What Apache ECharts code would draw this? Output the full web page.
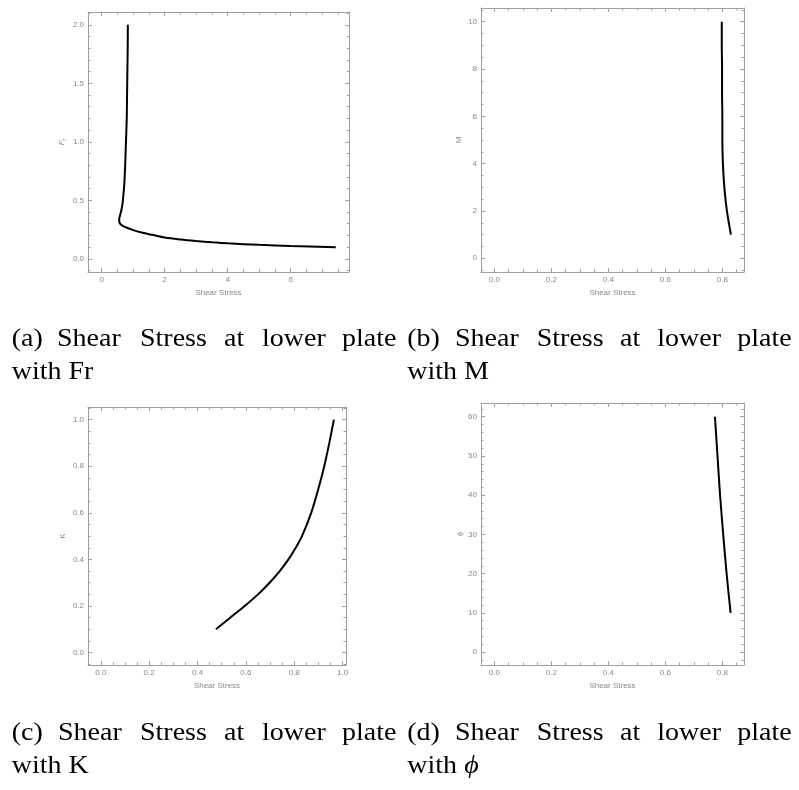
<!DOCTYPE html>
<html>
<head>
<meta charset="utf-8">
<script src="https://cdn.jsdelivr.net/npm/echarts@6/dist/echarts.min.js"></script>
<style>
html,body{margin:0;padding:0;background:#fff;}
#chart{width:799px;height:790px;}
</style>
</head>
<body>
<div id="chart"></div>
<script>
// ---- data ----
// (a) Shear stress vs Fr
const frShear = [0.83, 0.825, 0.815, 0.805, 0.795, 0.77, 0.745, 0.72, 0.69, 0.66, 0.62, 0.58, 0.555, 0.56, 0.60, 0.68, 0.80, 1.0, 1.3, 1.6, 2.0, 2.5, 3.0, 3.5, 4.0, 5.0, 6.0, 7.43];
const frVals  = [2.0, 1.8, 1.6, 1.4, 1.2, 1.0, 0.8, 0.65, 0.55, 0.47, 0.41, 0.37, 0.34, 0.315, 0.295, 0.28, 0.265, 0.245, 0.222, 0.205, 0.182, 0.165, 0.152, 0.141, 0.132, 0.119, 0.109, 0.098];
// (b) Shear stress vs M
const mShear = [0.798, 0.798, 0.799, 0.799, 0.800, 0.800, 0.802, 0.807, 0.816, 0.830];
const mVals  = [10, 9, 8, 7, 6, 5, 4, 3, 2, 1];
// (c) Shear stress vs K
const kShear = [0.476, 0.535, 0.595, 0.65, 0.698, 0.74, 0.776, 0.806, 0.832, 0.870, 0.899, 0.924, 0.945, 0.964];
const kVals  = [0.1, 0.15, 0.2, 0.25, 0.3, 0.35, 0.4, 0.45, 0.5, 0.6, 0.7, 0.8, 0.9, 1.0];
// (d) Shear stress vs phi
const phiShear = [0.774, 0.783, 0.792, 0.803, 0.815, 0.829];
const phiVals  = [60, 50, 40, 30, 20, 10];

// axis ranges (frame extents) per panel
const xRanges = [[-0.435, 7.85], [-0.047, 0.876], [-0.053, 1.014], [-0.047, 0.876]];
const yRanges = [[-0.113, 2.11], [-0.58, 10.58], [-0.053, 1.054], [-3.3, 63.5]];
const xDecimals = [0, 1, 1, 1];
const yDecimals = [1, 0, 1, 0];
const xMinorSplits = [4, 4, 4, 4];
const yMinorSplits = [5, 4, 4, 5];
const xTitle = 'Shear Stress';
const yTitles = ['{i|F}{s|r}', 'M', 'K', '\u03d5'];

const captions1 = [
  ['(a)', 'Shear', 'Stress', 'at', 'lower', 'plate'],
  ['(b)', 'Shear', 'Stress', 'at', 'lower', 'plate'],
  ['(c)', 'Shear', 'Stress', 'at', 'lower', 'plate'],
  ['(d)', 'Shear', 'Stress', 'at', 'lower', 'plate']
];
const captions2 = ['with Fr', 'with M', 'with K', 'with '];
const captions2Math = ['', '', '', '\u03d5'];

// ---- layout ----
const grids = [
  {left: 88, top: 12, width: 261, height: 260},
  {left: 481, top: 8, width: 263, height: 264},
  {left: 88, top: 407, width: 258, height: 258},
  {left: 481, top: 403, width: 263, height: 262}
];
const yNameGaps = [21, 18, 21, 17];
const frameColor = '#a0a0a0';
const labelColor = '#888888';
const sans = 'Liberation Sans, Arial, sans-serif';
const serif = 'Liberation Serif, Times New Roman, serif';

const xAxes = [], yAxes = [], series = [];
const datasets = [[frShear, frVals], [mShear, mVals], [kShear, kVals], [phiShear, phiVals]];

function axisBase(min, max, minorSplit, dec) {
  return {
    type: 'value', min: min, max: max, scale: true,
    axisLine: {show: true, onZero: false, lineStyle: {color: frameColor, width: 1}},
    axisTick: {show: true, inside: true, length: 4, lineStyle: {color: frameColor}},
    minorTick: {show: true, splitNumber: minorSplit, length: 2.5, lineStyle: {color: frameColor}},
    splitLine: {show: false},
    axisLabel: {show: true, color: labelColor, fontSize: 8, fontFamily: sans, margin: 4,
      showMinLabel: false, showMaxLabel: false,
      formatter: v => Number(v).toFixed(dec)}
  };
}

for (let i = 0; i < 4; i++) {
  const xb = axisBase(xRanges[i][0], xRanges[i][1], xMinorSplits[i], xDecimals[i]);
  xb.gridIndex = i; xb.position = 'bottom';
  xb.name = xTitle; xb.nameLocation = 'middle'; xb.nameGap = 17;
  xb.nameTextStyle = {color: labelColor, fontSize: 8, fontFamily: sans};
  xAxes.push(xb);
  const xt = axisBase(xRanges[i][0], xRanges[i][1], xMinorSplits[i], xDecimals[i]);
  xt.gridIndex = i; xt.position = 'top'; xt.axisLabel = {show: false};
  xAxes.push(xt);

  const yl = axisBase(yRanges[i][0], yRanges[i][1], yMinorSplits[i], yDecimals[i]);
  yl.gridIndex = i; yl.position = 'left';
  yl.name = yTitles[i]; yl.nameLocation = 'middle'; yl.nameGap = yNameGaps[i];
  yl.nameTextStyle = {color: labelColor, fontSize: 8, fontFamily: sans,
    rich: {i: {fontStyle: 'italic', fontSize: 8, color: labelColor, fontFamily: sans},
           s: {fontSize: 5.5, color: labelColor, fontFamily: sans, padding: [4, 0, 0, 0]}}};
  yAxes.push(yl);
  const yr = axisBase(yRanges[i][0], yRanges[i][1], yMinorSplits[i], yDecimals[i]);
  yr.gridIndex = i; yr.position = 'right'; yr.axisLabel = {show: false};
  yAxes.push(yr);

  const xs = datasets[i][0], ys = datasets[i][1];
  series.push({
    type: 'line', xAxisIndex: 2 * i, yAxisIndex: 2 * i,
    data: xs.map((x, k) => [x, ys[k]]),
    showSymbol: false, smooth: 0.3, clip: true,
    lineStyle: {color: '#000', width: 2},
    silent: true, animation: false
  });
}

// captions (justified word positions); y is the top of the text box
const wordX = [
  [11.7, 57, 140, 224, 262, 342],
  [407.3, 455, 536.7, 620, 657.3, 737.3],
  [11.7, 58, 140, 224, 262, 342],
  [407.3, 455, 536.7, 620, 657.3, 737.3]
];
const line1Y = [327, 327, 721, 721];
const line2Y = [360, 360, 754, 754];
const line2X = [11.7, 407.3, 11.7, 407.3];
const graphics = [];
for (let i = 0; i < 4; i++) {
  captions1[i].forEach((w, k) => {
    graphics.push({type: 'text', x: wordX[i][k], y: line1Y[i], scaleX: 1.12,
      style: {text: w, font: '25px ' + serif, fill: '#000'}});
  });
  graphics.push({type: 'text', x: line2X[i], y: line2Y[i], scaleX: 1.12,
    style: {text: captions2[i], font: '25px ' + serif, fill: '#000'}});
  if (captions2Math[i]) {
    graphics.push({type: 'text', x: line2X[i] + 57, y: line2Y[i], scaleX: 1.12,
      style: {text: captions2Math[i], font: 'italic 25px ' + serif, fill: '#000'}});
  }
}

const chart = echarts.init(document.getElementById('chart'), null, {renderer: 'canvas'});
chart.setOption({
  animation: false,
  backgroundColor: '#fff',
  grid: grids.map(g => Object.assign({containLabel: false}, g)),
  xAxis: xAxes,
  yAxis: yAxes,
  series: series,
  graphic: graphics
});
</script>
</body>
</html>
